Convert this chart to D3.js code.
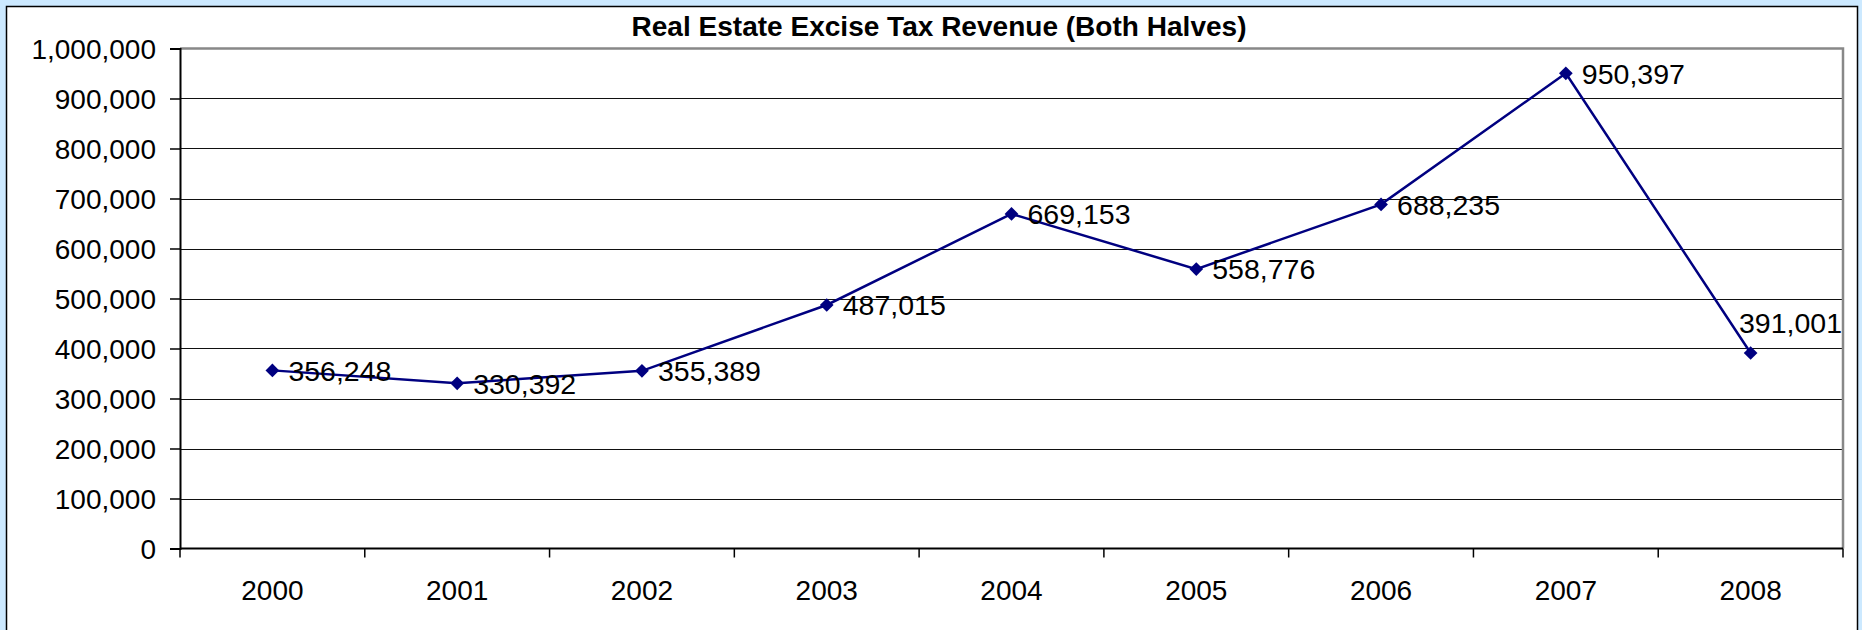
<!DOCTYPE html>
<html>
<head>
<meta charset="utf-8">
<script src="https://cdn.jsdelivr.net/npm/d3@7"></script>
<style>
  html, body { margin: 0; padding: 0; background: #cce9ff; }
  svg { display: block; }
</style>
</head>
<body>
<svg id="chart" width="1862" height="630"></svg>
<script>
const titleText = "Real Estate Excise Tax Revenue (Both Halves)";
const years = ["2000", "2001", "2002", "2003", "2004", "2005", "2006", "2007", "2008"];
const revenue = [356248, 330392, 355389, 487015, 669153, 558776, 688235, 950397, 391001];
const yTicks = [0, 100000, 200000, 300000, 400000, 500000, 600000, 700000, 800000, 900000, 1000000];

const svg = d3.select("#chart");
const W = 1862, H = 630;
const plot = { left: 180, right: 1843, top: 48.5, bottom: 548.5 };
const font = "Arial, 'Liberation Sans', sans-serif";

// outer background + chart area
svg.append("rect").attr("x", 0).attr("y", 0).attr("width", W).attr("height", H).attr("fill", "#cce9ff");
svg.append("rect").attr("x", 6.5).attr("y", 6.5).attr("width", 1851).attr("height", 640)
  .attr("fill", "#ffffff").attr("stroke", "#000").attr("stroke-width", 1.5);

const x = d3.scaleBand().domain(years).range([plot.left, plot.right]).padding(0);
const y = d3.scaleLinear().domain([0, 1000000]).range([plot.bottom, plot.top]);

// gridlines
svg.append("g").selectAll("line").data(yTicks.slice(1, -1)).join("line")
  .attr("x1", plot.left).attr("x2", plot.right)
  .attr("y1", d => Math.round(y(d)) + 0.5).attr("y2", d => Math.round(y(d)) + 0.5)
  .attr("stroke", "#111").attr("stroke-width", 1.2);

// plot border (top/right gray)
svg.append("path")
  .attr("d", `M${plot.left},${plot.top}H${plot.right}V${plot.bottom}`)
  .attr("fill", "none").attr("stroke", "#888").attr("stroke-width", 2.5);

// y axis
const yAxis = d3.axisLeft(y).tickValues(yTicks).tickFormat(d3.format(",")).tickSize(10).tickPadding(14);
const gy = svg.append("g").attr("transform", `translate(${plot.left},0)`).call(yAxis);
gy.select(".domain").attr("stroke", "#000").attr("stroke-width", 2);
gy.selectAll(".tick line").attr("stroke", "#000").attr("stroke-width", 1.5);
gy.selectAll(".tick text").attr("font-family", font).attr("font-size", 28).attr("fill", "#000").attr("dy", "0.36em");

// x axis with ticks at band boundaries
const gx = svg.append("g").attr("transform", `translate(0,${plot.bottom})`);
gx.append("line").attr("x1", plot.left).attr("x2", plot.right).attr("y1", 0).attr("y2", 0)
  .attr("stroke", "#000").attr("stroke-width", 2);
const bounds = years.map(d => x(d)).concat([plot.right]);
gx.selectAll("line.tk").data(bounds).join("line").attr("class", "tk")
  .attr("x1", d => d).attr("x2", d => d).attr("y1", 0).attr("y2", 9)
  .attr("stroke", "#000").attr("stroke-width", 1.5);
gx.selectAll("text").data(years).join("text")
  .attr("x", d => x(d) + x.bandwidth() / 2).attr("y", 51)
  .attr("text-anchor", "middle").attr("font-family", font).attr("font-size", 28).attr("fill", "#000")
  .text(d => d);

// title
svg.append("text").attr("x", 939).attr("y", 36).attr("text-anchor", "middle")
  .attr("font-family", font).attr("font-weight", "bold").attr("font-size", 27)
  .attr("textLength", 615).attr("lengthAdjust", "spacingAndGlyphs")
  .text(titleText);

// line
const data = years.map((yr, i) => ({ yr, v: revenue[i] }));
const cx = d => x(d.yr) + x.bandwidth() / 2;
svg.append("path").datum(data)
  .attr("d", d3.line().x(cx).y(d => y(d.v)))
  .attr("fill", "none").attr("stroke", "#000080").attr("stroke-width", 2.5);

// markers
svg.append("g").selectAll("path").data(data).join("path")
  .attr("d", d3.symbol().type(d3.symbolDiamond2).size(120))
  .attr("transform", d => `translate(${cx(d)},${y(d.v)})`)
  .attr("fill", "#000080");

// labels
const fmt = d3.format(",");
svg.append("g").selectAll("text").data(data).join("text")
  .attr("font-family", font).attr("font-size", 28.5).attr("fill", "#000")
  .each(function (d, i) {
    const t = d3.select(this).text(fmt(d.v));
    if (i === data.length - 1) {
      t.attr("x", plot.right - 1).attr("y", y(d.v) - 20).attr("text-anchor", "end");
    } else {
      t.attr("x", cx(d) + 16).attr("y", y(d.v)).attr("dy", "0.36em").attr("text-anchor", "start");
    }
  });
</script>
</body>
</html>
